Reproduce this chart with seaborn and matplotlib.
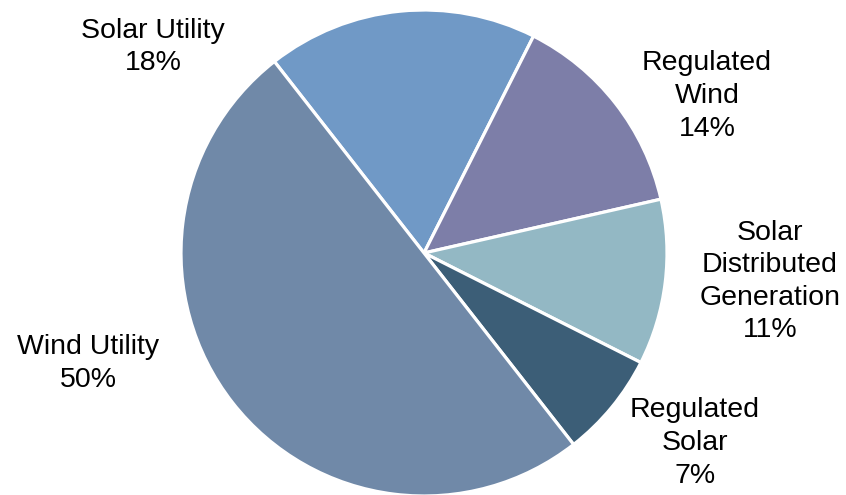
import matplotlib
matplotlib.use("Agg")
import matplotlib.pyplot as plt
import seaborn as sns

# Portfolio mix by segment (percent of total)
segments = ["Solar Utility", "Regulated\nWind", "Solar\nDistributed\nGeneration",
            "Regulated\nSolar", "Wind Utility"]
shares = [18, 14, 11, 7, 50]
colors = ["#7099C6", "#7D7EA8", "#93B8C4", "#3C5E77", "#7089A8"]

# Label anchor points in pie-radius units
label_x = [-1.115, 1.165, 1.424, 1.115, -1.383]
label_y = [0.848, 0.646, -0.117, -0.782, -0.455]

sns.set_theme(style="white")
plt.rcParams["font.family"] = ["Liberation Sans", "DejaVu Sans"]

W, H = 846, 495
fig = plt.figure(figsize=(W / 100, H / 100), dpi=100)
cx, cy, r = 424, 253, 243
ax = fig.add_axes([(cx - r) / W, (H - cy - r) / H, 2 * r / W, 2 * r / H])

ax.pie(shares, colors=colors, startangle=128, counterclock=False,
       radius=1.0, wedgeprops=dict(edgecolor="white", linewidth=2.3))
ax.set_xlim(-1, 1)
ax.set_ylim(-1, 1)
ax.set_aspect("equal")
ax.axis("off")

for name, val, x, y in zip(segments, shares, label_x, label_y):
    ax.text(x, y, f"{name}\n{val}%", ha="center", va="center",
            fontsize=20.5, color="black", linespacing=1.33, clip_on=False)

fig.savefig("out.png", dpi=100, facecolor="white")
